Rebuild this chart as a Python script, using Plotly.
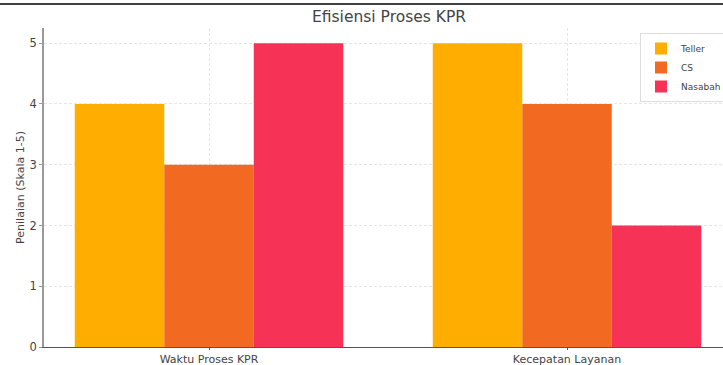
import plotly.graph_objects as go

categories = ["Waktu Proses KPR", "Kecepatan Layanan"]
series_names = ["Teller", "CS", "Nasabah"]
teller = [4, 5]
cs = [3, 4]
nasabah = [5, 2]
colors = ["#FFAE00", "#F26A22", "#F73257"]

values = [teller, cs, nasabah]
fig = go.Figure()
for name, vals, col in zip(series_names, values, colors):
    fig.add_trace(go.Bar(x=[0, 1], y=vals, name=name, marker=dict(color=col, line=dict(width=0))))

W, H = 723, 365
ml, mr, mt, mb = 44, 0, 28, 18
pw = W - ml - mr
ph = H - mt - mb

grid = dict(showgrid=True, gridcolor="#e6e6e6", griddash="3px,2px", gridwidth=0.8)
fig.update_layout(
    width=W, height=H,
    margin=dict(l=ml, r=mr, t=mt, b=mb, autoexpand=False),
    paper_bgcolor="white", plot_bgcolor="white",
    barmode="group", bargap=0.25, bargroupgap=0,
    font=dict(family="DejaVu Sans", color="#444444", size=11.5),
    title=dict(text="Efisiensi Proses KPR", x=389 / W,
               xanchor="center", y=1 - 17 / H, yanchor="middle",
               font=dict(size=15.5, color="#444444")),
    xaxis=dict(tickmode="array", tickvals=[0, 1], ticktext=categories,
               range=[-165 / 358, (pw - 165) / 358], automargin=False,
               showline=True, linecolor="#555555", linewidth=1.2,
               ticks="outside", ticklen=2, tickcolor="#555555",
               tickfont=dict(size=11), ticklabelstandoff=0,
               zeroline=False, **grid),
    yaxis=dict(range=[0, 5.25], tickvals=[0, 1, 2, 3, 4, 5], automargin=False,
               showline=True, linecolor="#999999", linewidth=1.5,
               ticks="outside", ticklen=3, tickcolor="#999999",
               zeroline=False,
               title=dict(text="Penilaian (Skala 1-5)", standoff=3, font=dict(size=11)),
               **grid),
    legend=dict(x=(640 - ml) / pw, y=1 - 5 / ph, xanchor="left", yanchor="top",
                bordercolor="#dddddd", borderwidth=1, bgcolor="rgba(255,255,255,0.9)",
                font=dict(size=9, color="#444444"), tracegroupgap=0, itemwidth=30),
    showlegend=True,
)
fig.add_shape(type="line", xref="paper", yref="paper",
              x0=-ml / pw, x1=1.0, y0=1 + 24 / ph, y1=1 + 24 / ph,
              line=dict(color="black", width=1.5))
fig.write_html("out.html", config={"displayModeBar": False},
               post_script="document.body.style.margin='0';document.body.style.overflow='hidden';")
